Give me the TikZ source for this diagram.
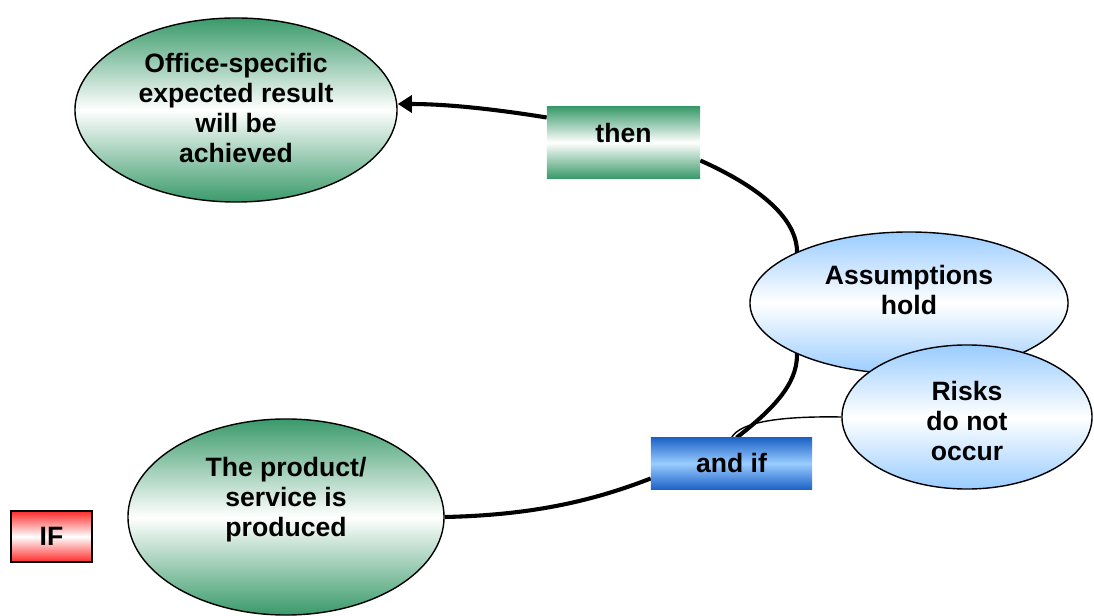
\documentclass[tikz,border=0pt]{standalone}
\usepackage{fontspec}
\setmainfont{Liberation Sans}
\usetikzlibrary{shapes.geometric,arrows.meta,calc,backgrounds}

\definecolor{ResultGreen}{RGB}{58,154,106}
\definecolor{HoldBlue}{RGB}{153,204,255}
\definecolor{LinkBlue}{RGB}{30,100,200}
\definecolor{StartRed}{RGB}{255,42,42}

\begin{document}
\begin{tikzpicture}
	[x=0.025cm, y=-0.025cm, >={Triangle[length=10pt,width=12pt]},
	 font=\fontsize{18.9}{21.3}\selectfont\bfseries,
	 goal/.style={ellipse, draw, line width=1pt, inner sep=0pt,
		top color=ResultGreen, bottom color=ResultGreen, middle color=white},
	 cond/.style={ellipse, draw, line width=1pt, inner sep=0pt,
		top color=HoldBlue, bottom color=HoldBlue, middle color=white},
	 tag/.style={rectangle, inner sep=0pt},
	 txt/.style={align=center, inner sep=0pt}]

	% frame
	\useasboundingbox (0,0) rectangle (1094,616);

	% results
	\begin{scope}
		\node[goal, minimum width=8.05cm, minimum height=4.6cm] (office) at (236,110) {};
		\node[txt] (officetxt) at ($(office)+(0,-2)$) {Office-specific\\expected result\\will be\\achieved};

		\node[goal, minimum width=7.9cm, minimum height=4.9cm] (prod) at (286,517) {};
		\node[txt] (prodtxt) at ($(prod)+(0,-17)$) {The product/\\service is\\produced};
	\end{scope}

	% assumptions and risks
	\begin{scope}
		\node[cond, minimum width=7.95cm, minimum height=3.55cm] (assum) at (909,303) {};
		\node[txt] (assumtxt) at ($(assum)+(0,-13)$) {Assumptions\\hold};

		\node[cond, minimum width=6.25cm, minimum height=3.6cm] (risks) at (967,417) {};
		\node[txt] (riskstxt) at ($(risks)+(0,4)$) {Risks\\do not\\occur};
	\end{scope}

	% logic tags
	\begin{scope}
		\node[tag, minimum width=3.825cm, minimum height=1.775cm,
			top color=ResultGreen, bottom color=ResultGreen, middle color=white] (then) at (623.5,142.5) {};
		\node[txt] (thentxt) at ($(then)+(0,-9)$) {then};

		\node[tag, minimum width=4.025cm, minimum height=1.275cm,
			top color=LinkBlue, bottom color=LinkBlue, middle color=HoldBlue] (andif) at (731.5,463.5) {and if};

		\node[tag, draw, line width=1pt, minimum width=2.025cm, minimum height=1.275cm,
			top color=StartRed, bottom color=StartRed, middle color=white] (start) at (51.5,536.5) {IF};
	\end{scope}

	% connecting lines
	\begin{pgfonlayer}{background}
		\begin{scope}[line width=2.9pt]
			\draw (prod.east) .. controls (540,515) and (600,498) .. ($(andif.west)+(0,15)$);
			\draw ($(andif.north)+(5,0)$) .. controls (772,410) and (797,385) .. ($(assum.center)+(-112,52)$)
				-- ($(assum.center)+(-112,-53)$);
			\draw ($(assum.center)+(-112,-53)$) .. controls (795,215) and (755,185) .. ($(then.east)+(0,18)$);
			\draw[->] ($(then.west)+(0,-25)$) .. controls (500,110) and (450,104) .. ($(office.east)+(0,-6)$);
		\end{scope}
		\draw[line width=1pt] (risks.west) .. controls (780,416) and (740,422) .. (andif.north);
	\end{pgfonlayer}

\end{tikzpicture}
\end{document}
